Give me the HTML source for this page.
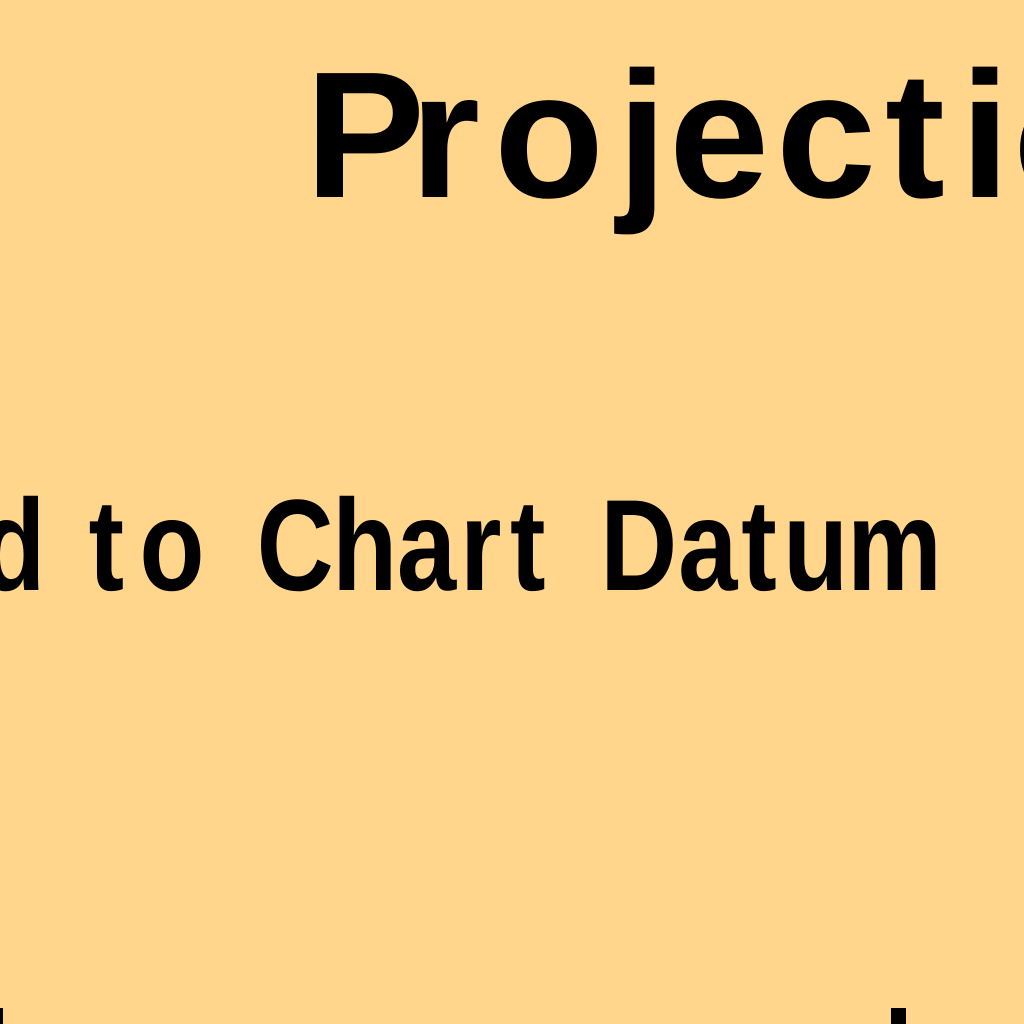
<!DOCTYPE html>
<html><head><style>
html,body{margin:0;padding:0;background:#FFD68C;width:1024px;height:1024px;overflow:hidden}
</style></head><body>
<svg width="1024" height="1024" xmlns="http://www.w3.org/2000/svg">
<rect width="1024" height="1024" fill="#FFD68C"/>
<text y="197" font-family="Liberation Sans, sans-serif" font-weight="bold" font-size="180" fill="#000"><tspan x="305">P</tspan><tspan x="410">r</tspan><tspan x="494">o</tspan><tspan x="617">j</tspan><tspan x="669">e</tspan><tspan x="776">c</tspan><tspan x="885">t</tspan><tspan x="960">i</tspan><tspan x="1013">o</tspan></text>
<g transform="scale(0.82,1)">
<text y="590" font-family="Liberation Sans, sans-serif" font-weight="bold" font-size="130" fill="#000"><tspan x="-24">d</tspan><tspan x="108">t</tspan><tspan x="170">o</tspan><tspan x="313">C</tspan><tspan x="405">h</tspan><tspan x="484">a</tspan><tspan x="561">r</tspan><tspan x="622">t</tspan><tspan x="732">D</tspan><tspan x="827">a</tspan><tspan x="904">t</tspan><tspan x="955">u</tspan><tspan x="1033">m</tspan></text>
</g>
<rect x="0" y="1008" width="3" height="16" fill="#000"/>
<rect x="891" y="1008" width="15" height="16" fill="#000"/>
</svg>
</body></html>
